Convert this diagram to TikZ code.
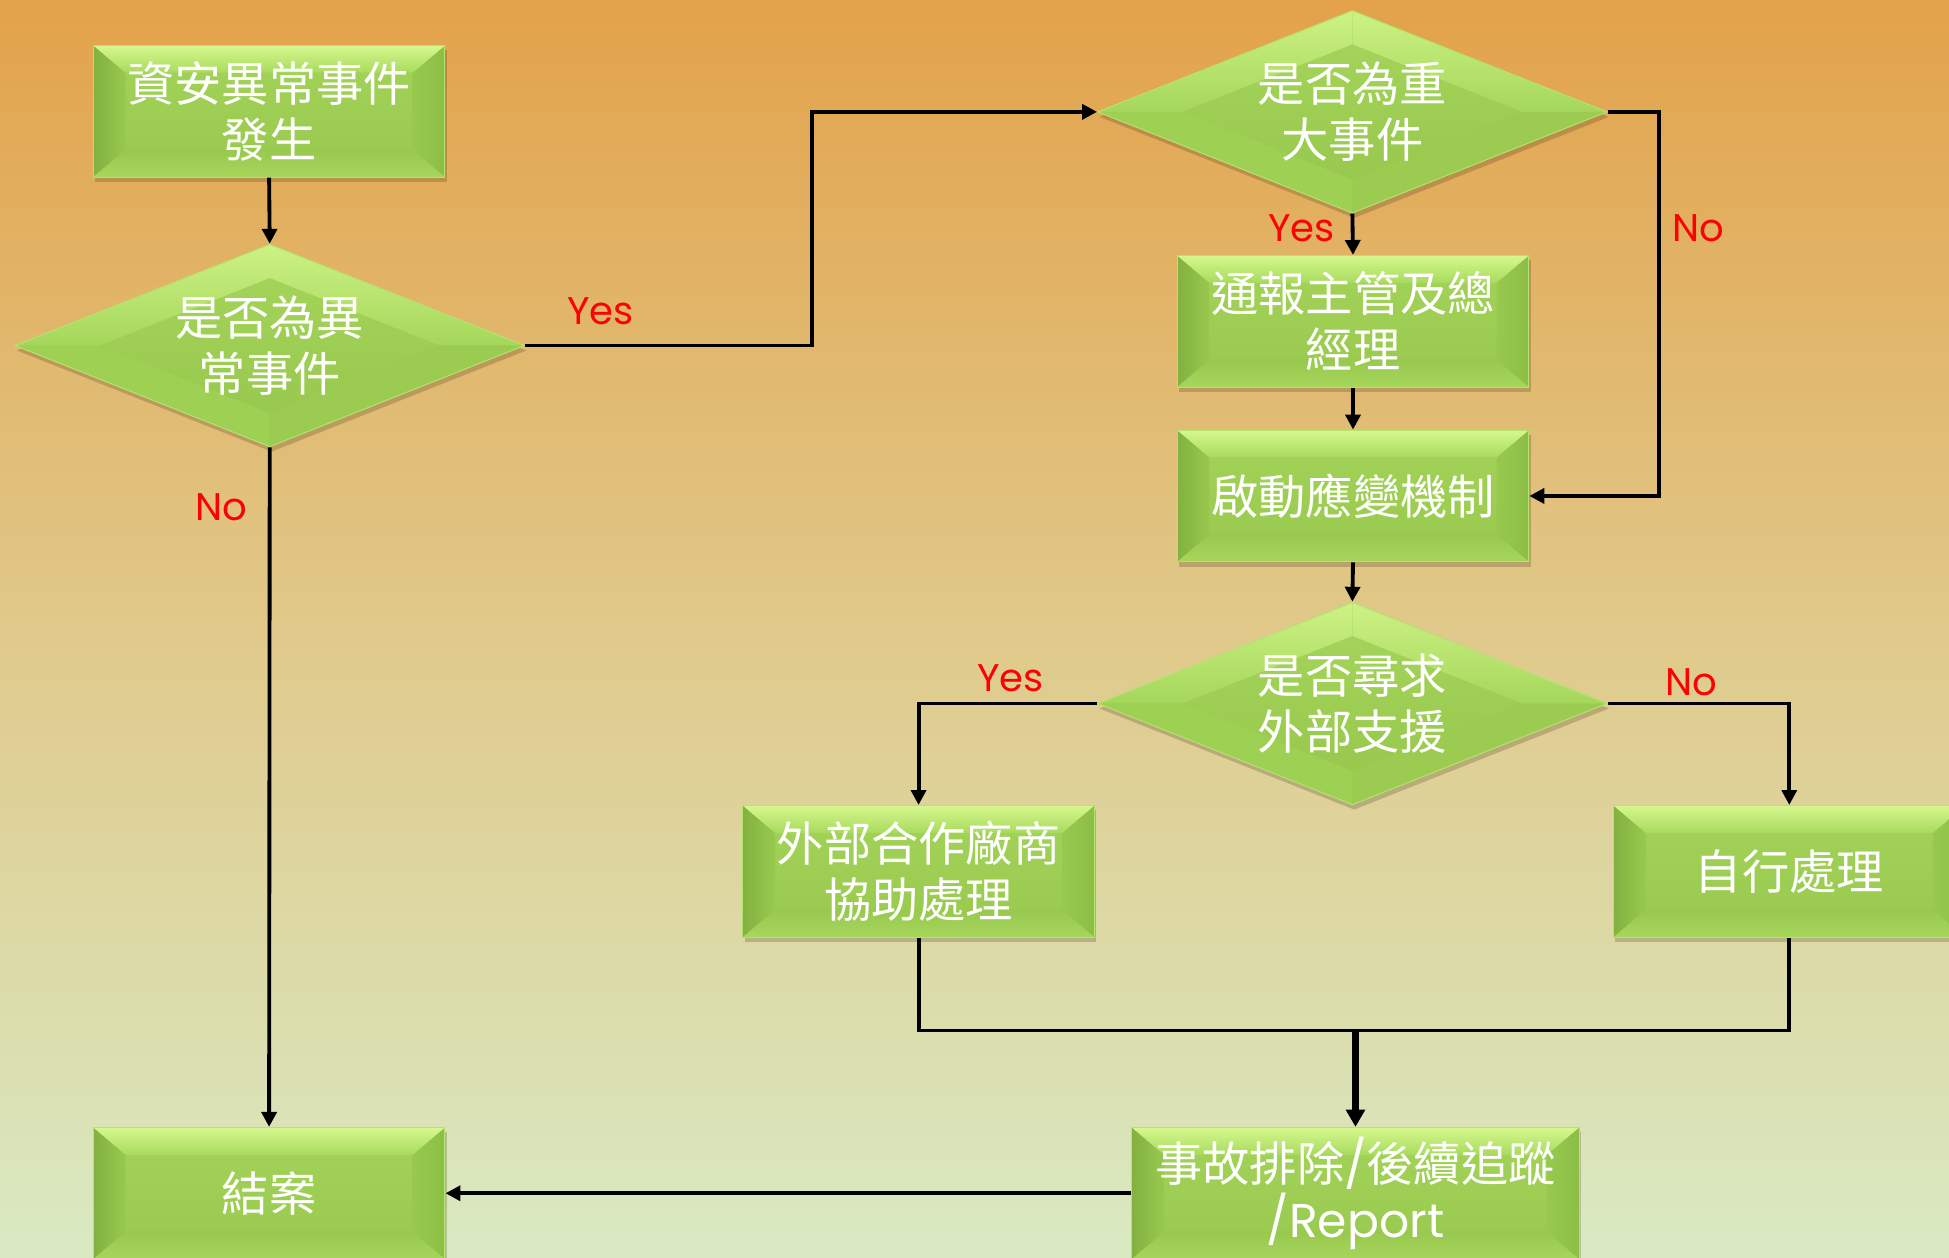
\documentclass[tikz,border=0pt]{standalone}
\usepackage{fontspec}
\newfontfamily\cjk{Noto Sans CJK TC}
\newfontfamily\lat{Poppins}
\usetikzlibrary{shapes.geometric,shadows,arrows.meta,calc}

\definecolor{bgtop}{HTML}{E3A24A}
\definecolor{bgmid}{HTML}{E0C98A}
\definecolor{bgbot}{HTML}{D9EAC3}
\definecolor{gmain}{HTML}{98C94E}
\definecolor{gmaintop}{HTML}{A3D459}
\definecolor{gtop}{HTML}{D6F88E}
\definecolor{gtopin}{HTML}{A8DA5E}
\definecolor{gleft}{HTML}{82B140}
\definecolor{gright}{HTML}{8CBE46}
\definecolor{gbot}{HTML}{A6D65C}
\definecolor{gedge}{HTML}{B4E46E}
\definecolor{labred}{HTML}{FF0000}

\tikzset{
  x=1pt, y=-1pt,
  shadowstyle/.style={drop shadow={shadow xshift=1.5pt, shadow yshift=-4pt, opacity=0.22, fill=black!70!brown}},
  box/.style={rectangle, inner sep=0pt, minimum width=283pt, minimum height=106pt,
    fill=gmain, draw=gedge, line width=0.8pt, align=center, text=white,
    font=\cjk\fontsize{38}{45}\selectfont, shadowstyle,
    path picture={
      \coordinate (pNW) at (path picture bounding box.north west);
      \coordinate (pNE) at (path picture bounding box.north east);
      \coordinate (pSW) at (path picture bounding box.south west);
      \coordinate (pSE) at (path picture bounding box.south east);
      \shade[top color=gmaintop, bottom color=gmain] (pNW) rectangle (pSE);
      \shade[left color=gleft, right color=gmain]
        (pNW) -- ($(pNW)+(26pt,-22pt)$) -- ($(pSW)+(26pt,22pt)$) -- (pSW) -- cycle;
      \shade[left color=gmain, right color=gright]
        (pNE) -- ($(pNE)+(-26pt,-22pt)$) -- ($(pSE)+(-26pt,22pt)$) -- (pSE) -- cycle;
      \shade[top color=gtop, bottom color=gtopin]
        (pNW) -- (pNE) -- ($(pNE)+(-26pt,-22pt)$) -- ($(pNW)+(26pt,-22pt)$) -- cycle;
      \shade[top color=gmain, bottom color=gbot]
        (pSW) -- ($(pSW)+(26pt,22pt)$) -- ($(pSE)+(-26pt,22pt)$) -- (pSE) -- cycle;
    }},
  dia/.style={diamond, aspect=2.5, inner sep=0pt, minimum width=410pt, minimum height=163pt,
    fill=gmain, draw=gedge, line width=0.8pt, align=center, text=white,
    font=\cjk\fontsize{38}{45}\selectfont, shadowstyle,
    path picture={
      \coordinate (pN) at (path picture bounding box.north);
      \coordinate (pS) at (path picture bounding box.south);
      \coordinate (pE) at (path picture bounding box.east);
      \coordinate (pW) at (path picture bounding box.west);
      \coordinate (qN) at ($(pN)+(0,-27pt)$);
      \coordinate (qS) at ($(pS)+(0,27pt)$);
      \coordinate (qE) at ($(pE)+(-68pt,0)$);
      \coordinate (qW) at ($(pW)+(68pt,0)$);
      \shade[top color=gmaintop, bottom color=gmain] (qN) -- (qE) -- (qS) -- (qW) -- cycle;
      \shade[top color=gtop!80!gtopin, bottom color=gtopin!80!gmain] (pW) -- (pN) -- (qN) -- (qW) -- cycle;
      \shade[top color=gtop!80!gtopin, bottom color=gtopin!80!gmain] (pN) -- (pE) -- (qE) -- (qN) -- cycle;
      \fill[gmain!60!gtopin] (pS) -- (pW) -- (qW) -- (qS) -- cycle;
      \fill[gmain!85!gtopin] (pE) -- (pS) -- (qS) -- (qE) -- cycle;
    }},
  conn/.style={draw=black, line width=3.1pt, -{Triangle[length=12pt,width=12pt]}},
  connbold/.style={draw=black, line width=5.8pt, -{Triangle[length=14pt,width=15pt]}},
  plain/.style={draw=black, line width=3.1pt},
  lab/.style={text=labred, font=\lat\fontsize{31}{31}\selectfont, inner sep=0pt}
}

\begin{document}
\begin{tikzpicture}
\useasboundingbox (0,0) rectangle (1568,1012);
\clip (0,0) rectangle (1568,1012);
\shade[top color=bgtop, bottom color=bgbot, middle color=bgmid] (0,0) rectangle (1568,1012);

% nodes
\node[box] (B1) at (216.5,89.5) {資安異常事件\\發生};
\node[dia] (D1) at (217,278) {是否為異\\常事件};
\node[dia] (D2) at (1088,90) {是否為重\\大事件};
\node[box] (B2) at (1088.5,258.5) {通報主管及總\\經理};
\node[box] (B3) at (1088.5,399) {啟動應變機制};
\node[dia] (D3) at (1088,566) {是否尋求\\外部支援};
\node[box] (B4) at (739,701) {外部合作廠商\\協助處理};
\node[box] (B5) at (1439.5,701) {自行處理};
\node[box] (B6) at (216.5,960) {結案};
\node[box, minimum width=360pt] (B7) at (1090.5,960) {事故排除{\lat /}後續追蹤\\{\lat /Report}};

\coordinate (c1) at (653,0);
\coordinate (c2) at (1335,0);
\coordinate (m) at (1090.5,829);

% connectors
\draw[conn] (B1.south) -- (D1.north);
\draw[conn] (D1.east) -| (c1 |- D2.west) -- (D2.west);
\draw[conn] (D1.south) -- (B6.north);
\draw[conn] (D2.south) -- (B2.north);
\draw[conn] (D2.east) -| (c2 |- B3.east) -- (B3.east);
\draw[conn] (B2.south) -- (B3.north);
\draw[conn] (B3.south) -- (D3.north);
\draw[conn] (D3.west) -| (B4.north);
\draw[conn] (D3.east) -| (B5.north);
\draw[plain] (B4.south) |- (m) -| (B5.south);
\draw[connbold] (m) -- (B7.north);
\draw[conn] (B7.west) -- (B6.east);

% labels
\node[lab] (l1) at (483,250) {Yes};
\node[lab] (l2) at (178,408) {No};
\node[lab] (l3) at (1047,184) {Yes};
\node[lab] (l4) at (1366,184) {No};
\node[lab] (l5) at (813,546) {Yes};
\node[lab] (l6) at (1361,549) {No};
\end{tikzpicture}
\end{document}
